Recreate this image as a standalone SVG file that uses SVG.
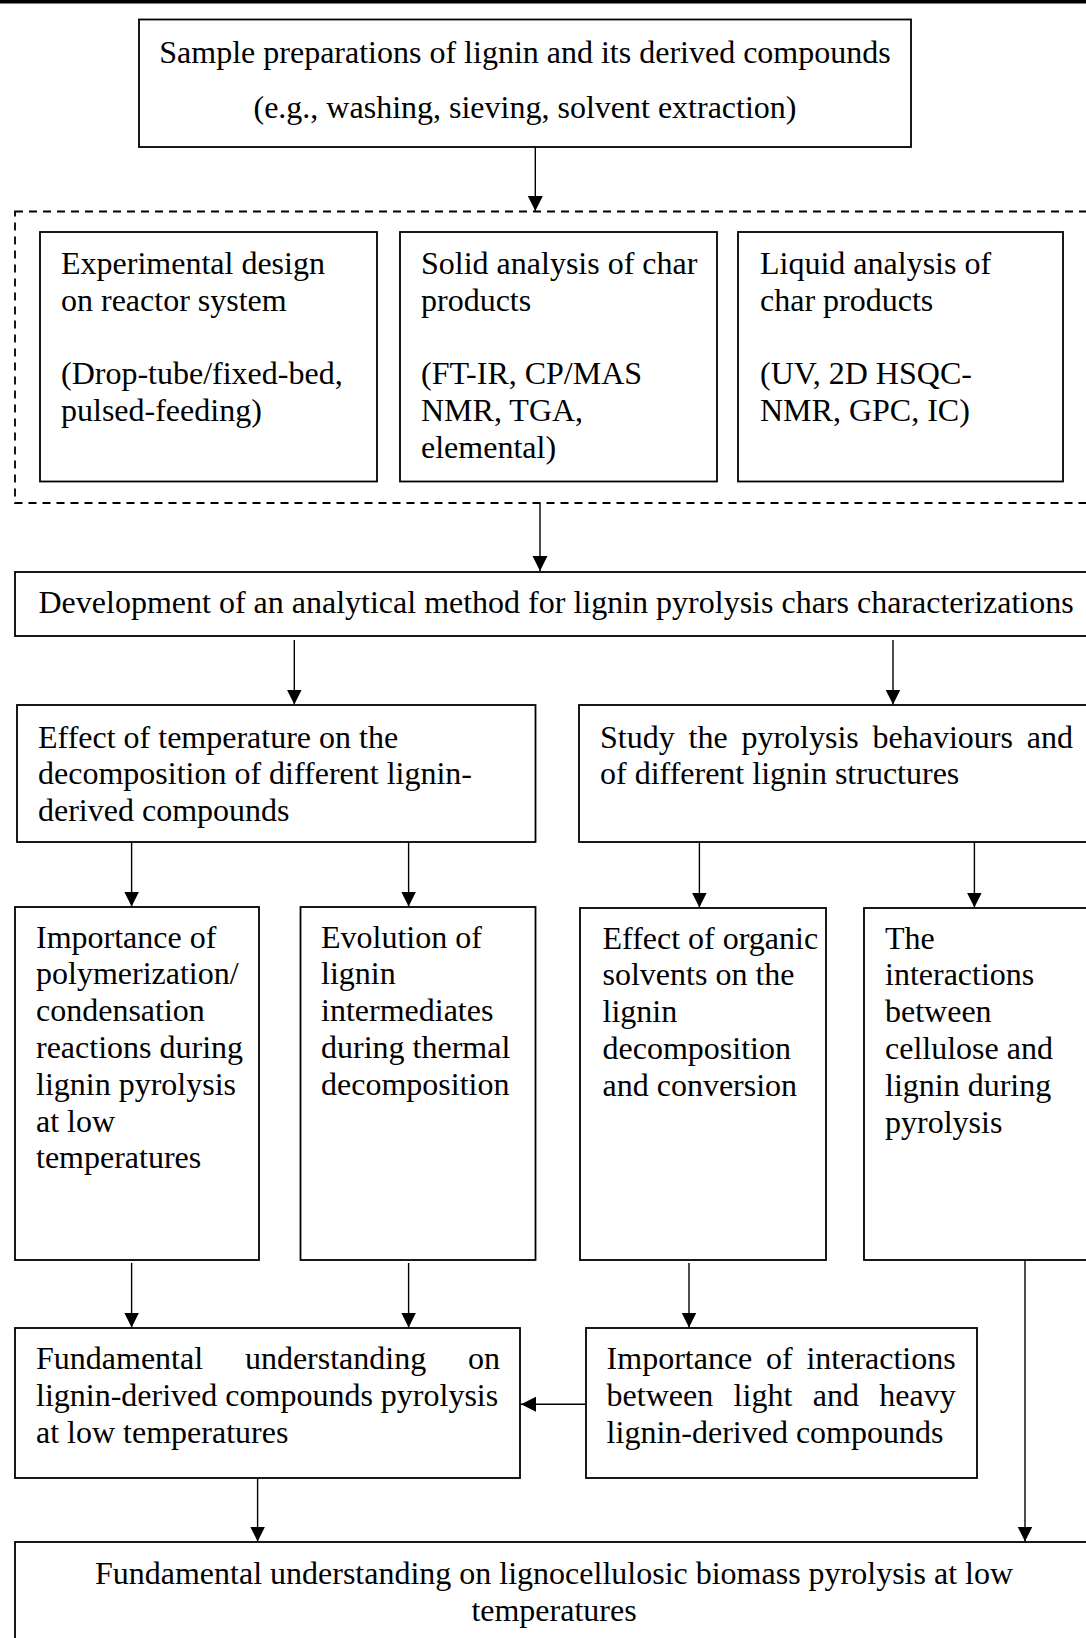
<svg xmlns="http://www.w3.org/2000/svg" width="1086" height="1638" viewBox="0 0 1086 1638">
<style>
  .box { fill: #ffffff; stroke: #000000; stroke-width: 1.8; }
  .dash { fill: none; stroke: #000000; stroke-width: 1.8; stroke-dasharray: 8 6; }
  .t { font-family: "Liberation Serif", "Times New Roman", serif; font-size: 32px; fill: #000000; }
  .c { text-anchor: middle; }
  .conn line { stroke: #000000; stroke-width: 1.4; marker-end: url(#arr); }
</style>
<defs>
  <marker id="arr" markerUnits="userSpaceOnUse" markerWidth="16" markerHeight="16" refX="15" refY="7.5" orient="auto">
    <path d="M0,0 L15,7.5 L0,15 z" fill="#000000"/>
  </marker>
</defs>
<rect x="0" y="0" width="1086" height="1638" fill="#ffffff"/>
<rect x="0" y="0" width="1086" height="3.5" fill="#000000"/>

<g id="n-prep">
  <rect class="box" x="139" y="19.5" width="772" height="127.5"/>
  <text class="t c" x="525" y="62.5">Sample preparations of lignin and its derived compounds</text>
  <text class="t c" x="525" y="117.5">(e.g., washing, sieving, solvent extraction)</text>
</g>

<g id="n-analysis-group">
  <rect class="dash" x="15" y="211.5" width="1090" height="291.5"/>
</g>

<g id="n-reactor">
  <rect class="box" x="40" y="232" width="337" height="249.5"/>
  <text class="t" x="61" y="274">Experimental design<tspan x="61" dy="36.8">on reactor system</tspan><tspan x="61" dy="73.6">(Drop-tube/fixed-bed,</tspan><tspan x="61" dy="36.8">pulsed-feeding)</tspan></text>
</g>

<g id="n-solid">
  <rect class="box" x="400" y="232" width="317" height="249.5"/>
  <text class="t" x="421" y="274">Solid analysis of char<tspan x="421" dy="36.8">products</tspan><tspan x="421" dy="73.6">(FT-IR, CP/MAS</tspan><tspan x="421" dy="36.8">NMR, TGA,</tspan><tspan x="421" dy="36.8">elemental)</tspan></text>
</g>

<g id="n-liquid">
  <rect class="box" x="738" y="232" width="325" height="249.5"/>
  <text class="t" x="760" y="274">Liquid analysis of<tspan x="760" dy="36.8">char products</tspan><tspan x="760" dy="73.6">(UV, 2D HSQC-</tspan><tspan x="760" dy="36.8">NMR, GPC, IC)</tspan></text>
</g>

<g id="n-method">
  <rect class="box" x="15" y="572" width="1085" height="64"/>
  <text class="t" x="38.5" y="612.5">Development of an analytical method for lignin pyrolysis chars characterizations</text>
</g>

<g id="n-temp">
  <rect class="box" x="17" y="705" width="518.5" height="137"/>
  <text class="t" x="38" y="747.5">Effect of temperature on the<tspan x="38" dy="36.8">decomposition of different lignin-</tspan><tspan x="38" dy="36.8">derived compounds</tspan></text>
</g>

<g id="n-study">
  <rect class="box" x="579" y="705" width="520" height="137"/>
  <text class="t" y="747.5"><tspan x="600">Study</tspan><tspan x="688.5">the</tspan><tspan x="741.4">pyrolysis</tspan><tspan x="872.5">behaviours</tspan><tspan x="1026.7">and</tspan></text>
  <text class="t" x="600" y="784.3">of different lignin structures</text>
</g>

<g id="n-poly">
  <rect class="box" x="15" y="907" width="244" height="353"/>
  <text class="t" x="36" y="947.5">Importance of<tspan x="36" dy="36.8">polymerization/</tspan><tspan x="36" dy="36.8">condensation</tspan><tspan x="36" dy="36.8">reactions during</tspan><tspan x="36" dy="36.8">lignin pyrolysis</tspan><tspan x="36" dy="36.8">at low</tspan><tspan x="36" dy="36.8">temperatures</tspan></text>
</g>

<g id="n-evol">
  <rect class="box" x="300.5" y="907" width="235" height="353"/>
  <text class="t" x="321" y="947.5">Evolution of<tspan x="321" dy="36.8">lignin</tspan><tspan x="321" dy="36.8">intermediates</tspan><tspan x="321" dy="36.8">during thermal</tspan><tspan x="321" dy="36.8">decomposition</tspan></text>
</g>

<g id="n-solv">
  <rect class="box" x="580" y="908" width="246" height="352"/>
  <text class="t" x="602.5" y="948.5">Effect of organic<tspan x="602.5" dy="36.8">solvents on the</tspan><tspan x="602.5" dy="36.8">lignin</tspan><tspan x="602.5" dy="36.8">decomposition</tspan><tspan x="602.5" dy="36.8">and conversion</tspan></text>
</g>

<g id="n-cell">
  <rect class="box" x="864" y="908" width="236" height="352"/>
  <text class="t" x="885" y="948.5">The<tspan x="885" dy="36.8">interactions</tspan><tspan x="885" dy="36.8">between</tspan><tspan x="885" dy="36.8">cellulose and</tspan><tspan x="885" dy="36.8">lignin during</tspan><tspan x="885" dy="36.8">pyrolysis</tspan></text>
</g>

<g id="n-fund-lignin">
  <rect class="box" x="15" y="1328" width="505" height="150"/>
  <text class="t" y="1369.2"><tspan x="36">Fundamental</tspan><tspan x="244.9">understanding</tspan><tspan x="468">on</tspan></text>
  <text class="t" x="36" y="1406">lignin-derived compounds pyrolysis</text>
  <text class="t" x="36" y="1442.8">at low temperatures</text>
</g>

<g id="n-interact">
  <rect class="box" x="586" y="1328" width="391" height="150"/>
  <text class="t" y="1369.2"><tspan x="606.6">Importance</tspan><tspan x="766">of</tspan><tspan x="806.4">interactions</tspan></text>
  <text class="t" y="1406"><tspan x="606.6">between</tspan><tspan x="733.6">light</tspan><tspan x="812.7">and</tspan><tspan x="879.3">heavy</tspan></text>
  <text class="t" x="606.6" y="1442.8">lignin-derived compounds</text>
</g>

<g id="n-fund-biomass">
  <rect class="box" x="15" y="1542" width="1078" height="120"/>
  <text class="t c" x="554" y="1584.2">Fundamental understanding on lignocellulosic biomass pyrolysis at low</text>
  <text class="t c" x="554" y="1621">temperatures</text>
</g>

<g id="connectors" class="conn">
  <line x1="535.3" y1="147" x2="535.3" y2="211"/>
  <line x1="540" y1="503" x2="540" y2="571"/>
  <line x1="294.3" y1="640" x2="294.3" y2="704.5"/>
  <line x1="893" y1="640" x2="893" y2="704.5"/>
  <line x1="131.6" y1="842" x2="131.6" y2="906.5"/>
  <line x1="408.6" y1="842" x2="408.6" y2="906.5"/>
  <line x1="699.4" y1="842" x2="699.4" y2="907.5"/>
  <line x1="974.4" y1="842" x2="974.4" y2="907.5"/>
  <line x1="131.6" y1="1263" x2="131.6" y2="1327.5"/>
  <line x1="408.6" y1="1263" x2="408.6" y2="1327.5"/>
  <line x1="689" y1="1263" x2="689" y2="1327.5"/>
  <line x1="1025" y1="1260" x2="1025" y2="1541.5"/>
  <line x1="585" y1="1404.3" x2="521" y2="1404.3"/>
  <line x1="257.6" y1="1478" x2="257.6" y2="1541.5"/>
</g>
</svg>
